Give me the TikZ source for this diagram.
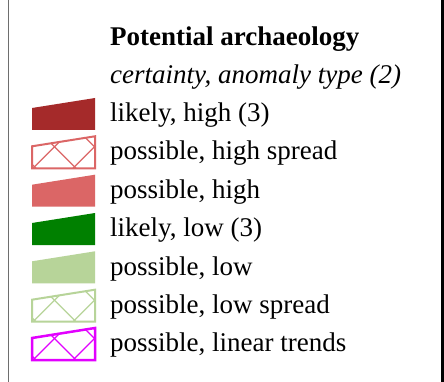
\documentclass[tikz,border=0pt]{standalone}
\usepackage{fontspec}
\setmainfont{Liberation Serif}

\definecolor{likelyhigh}{RGB}{165,42,42}
\definecolor{possiblehigh}{RGB}{219,102,102}
\definecolor{likelylow}{RGB}{0,128,0}
\definecolor{possiblelow}{RGB}{183,212,153}
\definecolor{lineartrend}{RGB}{226,0,255}
\definecolor{framegray}{RGB}{110,110,110}

% legend swatch: a slanted-top quadrilateral whose bottom edge sits at y = #1
\newcommand\swatchpath[1]{(32,#1) -- (32,#1-22) -- (95,#1-32) -- (95,#1) -- cycle}

% hatched swatch: bottom y, colour, outline width
\newcommand\hatchswatch[3]{%
  \begin{scope}
    \clip \swatchpath{#1};
    \foreach \hx in {33,73} \draw[#2, line width=1.3pt] (\hx-40,#1+40) -- (\hx+40,#1-40);
    \foreach \hx in {36,76,116} \draw[#2, line width=1.3pt] (\hx-40,#1-40) -- (\hx+40,#1+40);
  \end{scope}
  \draw[#2, line width=#3, line join=miter] \swatchpath{#1};
}

\tikzset{
  legendtext/.style={anchor=base west, inner sep=0pt, font=\fontsize{27}{32}\selectfont},
}

\begin{document}
\begin{tikzpicture}[x=1pt, y=-1pt]
  \useasboundingbox (0,0) rectangle (444,382);
  \fill[white] (0,0) rectangle (444,382);

  % frame sides
  \draw[framegray, line width=1.3pt] (8.5,0) -- (8.5,382);
  \draw[black, line width=3pt] (442.5,0) -- (442.5,382);

  % heading
  \node[legendtext, font=\fontsize{27}{32}\selectfont\bfseries] (title) at (110,46) {Potential archaeology};
  \node[legendtext, font=\fontsize{27}{32}\selectfont\itshape] (subtitle) at (110,84) {certainty, anomaly type (2)};

  % entries
  \node[legendtext] (e1) at (110,121.7) {likely, high (3)};
  \node[legendtext] (e2) at (110,160.0) {possible, high spread};
  \node[legendtext] (e3) at (110,198.3) {possible, high};
  \node[legendtext] (e4) at (110,236.6) {likely, low (3)};
  \node[legendtext] (e5) at (110,275.0) {possible, low};
  \node[legendtext] (e6) at (110,313.3) {possible, low spread};
  \node[legendtext] (e7) at (110,351.7) {possible, linear trends};

  % swatches
  \fill[likelyhigh] \swatchpath{130};
  \hatchswatch{168.3}{possiblehigh}{2pt}
  \fill[possiblehigh] \swatchpath{206.7};
  \fill[likelylow] \swatchpath{245};
  \fill[possiblelow] \swatchpath{283.3};
  \hatchswatch{321.7}{possiblelow}{2pt}
  \hatchswatch{360}{lineartrend}{2.5pt}
\end{tikzpicture}
\end{document}
